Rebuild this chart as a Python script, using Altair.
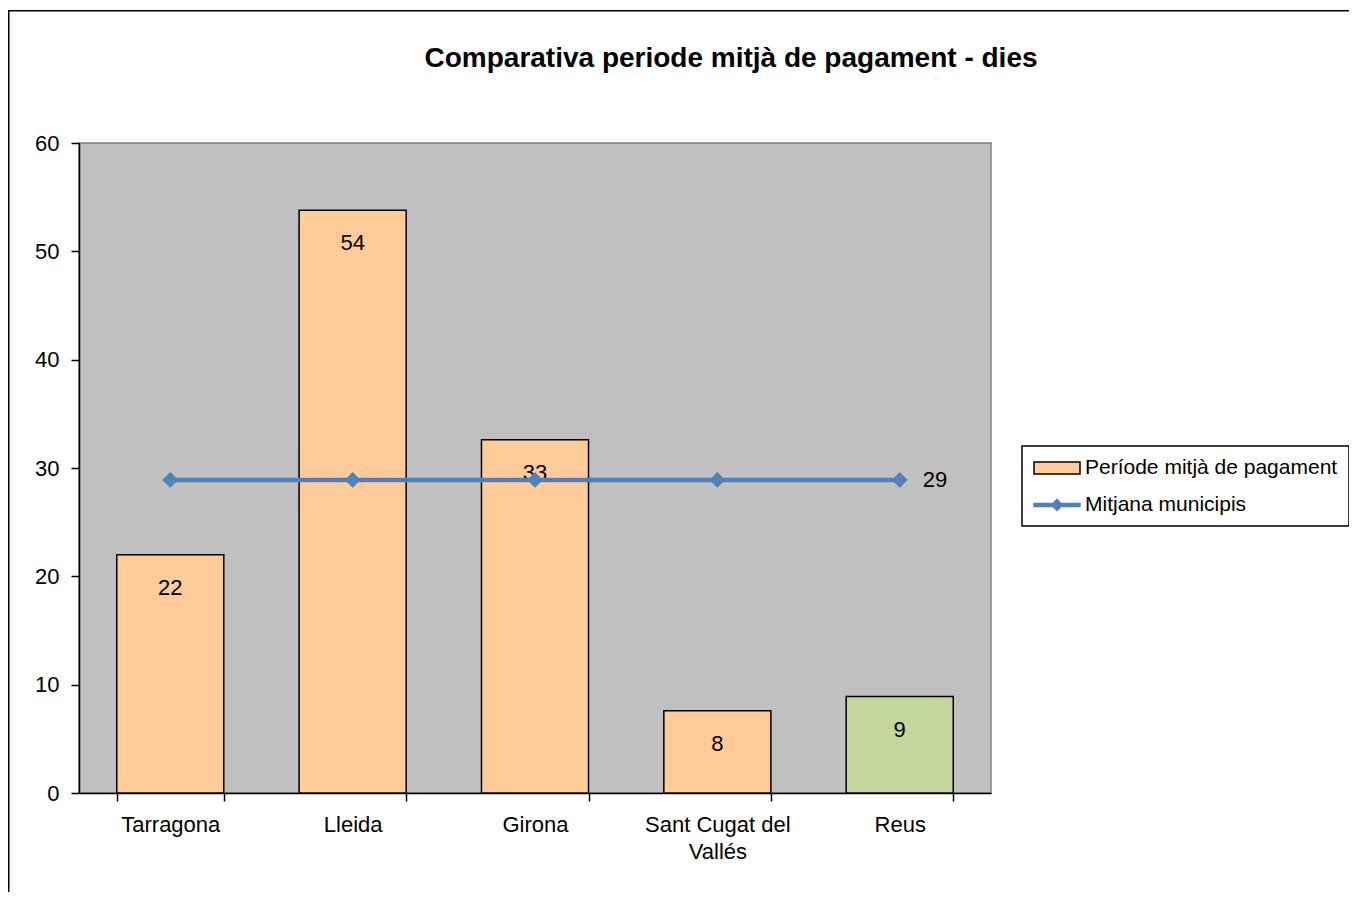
import altair as alt
import pandas as pd

# ---------------- data ----------------
cities = ["Tarragona", "Lleida", "Girona", "Sant Cugat del Vallés", "Reus"]
periode = [22.0, 53.8, 32.6, 7.6, 8.9]
mitjana = [28.9, 28.9, 28.9, 28.9, 28.9]
series_names = ["Període mitjà de pagament", "Mitjana municipis"]
y_ticks = [0, 10, 20, 30, 40, 50, 60]
title_text = "Comparativa periode mitjà de pagament - dies"
highlight_city = "Reus"

bars_df = pd.DataFrame({"city": cities, "value": periode, "series": series_names[0]})
bars_df["fill_key"] = [c if c == highlight_city else series_names[0] for c in cities]
line_df = pd.DataFrame({"city": cities, "value": mitjana, "series": series_names[1]})
line_label_df = line_df.iloc[[-1]]
frame_df = pd.DataFrame({"k": [0]})

FONT = "Liberation Sans"
PEACH = "#FFCC99"
GREEN = "#C3D69B"
BLUE = "#4F81BD"

W, H = 912, 650

x_enc = alt.X(
    "city:N",
    sort=cities,
    scale=alt.Scale(paddingInner=0.413, paddingOuter=0.207),
    axis=alt.Axis(
        title=None, labelAngle=0, labelFontSize=22, labelFont=FONT, labelColor="black",
        tickBand="extent", tickSize=8, tickColor="black", tickWidth=1.5,
        domainColor="black", domainWidth=1.5, labelPadding=13, labelLineHeight=27,
        labelExpr="length(datum.label) > 14 ? [slice(datum.label, 0, lastindexof(datum.label, ' ')), slice(datum.label, lastindexof(datum.label, ' ') + 1)] : datum.label",
    ),
)
y_enc = alt.Y(
    "value:Q",
    scale=alt.Scale(domain=[0, 60], nice=False),
    axis=alt.Axis(
        values=y_ticks, title=None, grid=False, labelFontSize=22, labelFont=FONT,
        labelColor="black", tickSize=8, tickColor="black", tickWidth=1.5,
        domainColor="black", domainWidth=1.5, labelPadding=12,
    ),
)

line_test = "datum.value === 'Mitjana municipis'"
legend = alt.Legend(
    title=None, orient="none", legendX=943, legendY=303,
    fillColor="white", padding=11,
    labelFontSize=21, labelFont=FONT, labelColor="black", labelOffset=30, labelLimit=500,
    symbolSize=400, rowPadding=16,
    symbolType=alt.ExprRef(expr=line_test + " ? 'M-1,-0.15L3.6,-0.15L3.6,0.15L-1,0.15Z M1.3,-0.55L1.85,0L1.3,0.55L0.75,0Z' : 'M-1,-0.6L3.6,-0.6L3.6,0.6L-1,0.6Z'"),
    symbolFillColor=alt.ExprRef(expr=line_test + " ? '" + BLUE + "' : '" + PEACH + "'"),
    symbolStrokeWidth=1.5,
    symbolOpacity=1,
)
fill_scale = alt.Scale(domain=[series_names[0], highlight_city], range=[PEACH, GREEN])
stroke_scale = alt.Scale(domain=series_names, range=["black", BLUE])

frame = alt.Chart(frame_df).mark_rect(filled=False, stroke="black", strokeWidth=1.5).encode(
    x=alt.value(-70.25), y=alt.value(-132.25), x2=alt.value(2000), y2=alt.value(2000)
)

bars = alt.Chart(bars_df).mark_bar(strokeWidth=1.5, opacity=1).encode(
    x=x_enc,
    y=y_enc,
    color=alt.Color("fill_key:N", scale=fill_scale, legend=None),
    stroke=alt.Stroke("series:N", scale=stroke_scale, legend=legend),
)

bar_labels = alt.Chart(bars_df).mark_text(
    dy=33, baseline="middle", align="center", fontSize=22, font=FONT, color="black"
).encode(x=alt.X("city:N", sort=cities), y="value:Q", text=alt.Text("value:Q", format=".0f"))

line = alt.Chart(line_df).mark_line(strokeWidth=4.5, color=BLUE).encode(
    x=alt.X("city:N", sort=cities), y="value:Q",
)
points = alt.Chart(line_df).mark_point(shape="diamond", filled=True, size=250, opacity=1, color=BLUE).encode(
    x=alt.X("city:N", sort=cities), y="value:Q"
)
line_label = alt.Chart(line_label_df).mark_text(
    dx=23, align="left", baseline="middle", fontSize=22, font=FONT, color="black"
).encode(x=alt.X("city:N", sort=cities), y="value:Q", text=alt.Text("value:Q", format=".0f"))

chart = alt.layer(frame, bars, bar_labels, line, points, line_label).properties(
    width=W,
    height=H,
    background="white",
    title=alt.TitleParams(
        title_text, fontSize=28, font=FONT, fontWeight="bold", color="black",
        anchor="middle", frame="group", dx=196, offset=0, baseline="middle", dy=77,
    ),
    autosize=alt.AutoSizeParams(type="none"),
    padding={"left": 71, "top": 135, "right": 358, "bottom": 99},
).configure_view(
    fill="#C0C0C0", stroke="#808080", strokeWidth=1.5
).configure_legend(
    strokeColor="black", strokeWidth=1.5
)

chart.save("out.html", embed_options={"renderer": "svg", "actions": False})
